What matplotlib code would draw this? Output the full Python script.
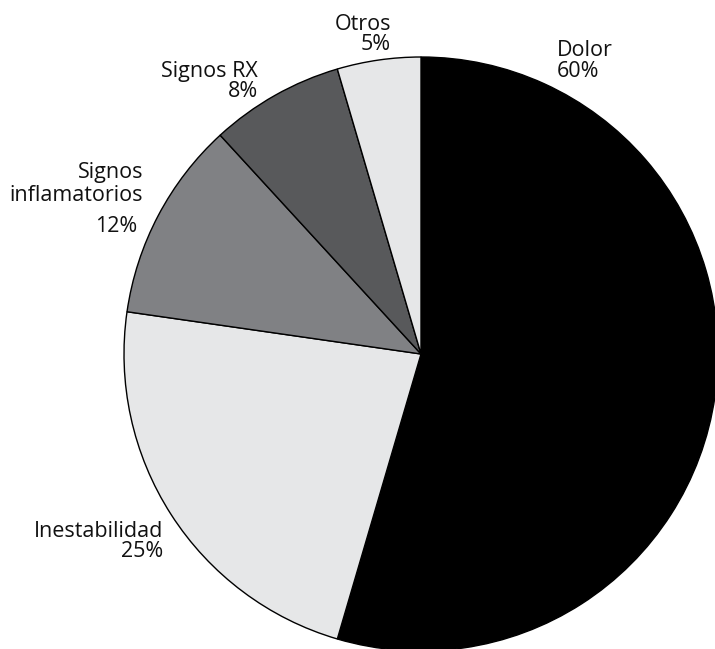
import matplotlib
matplotlib.use("Agg")
import matplotlib.pyplot as plt

# Data
categories = ["Dolor", "Inestabilidad", "Signos\ninflamatorios", "Signos RX", "Otros"]
percentages = [60, 25, 12, 8, 5]
colors = ["#000000", "#e6e7e8", "#808184", "#58595b", "#e6e7e8"]

W, H = 715, 649
fig = plt.figure(figsize=(W / 100, H / 100), dpi=100)
ax = fig.add_axes([0, 0, 1, 1])

# pie geometry in pixel units (y measured upward)
cx, cy, r = 421, H - 354, 297

ax.pie(percentages, colors=colors, startangle=90, counterclock=False,
       center=(cx, cy), radius=r,
       wedgeprops=dict(edgecolor="black", linewidth=1.0))
ax.set_xlim(0, W)
ax.set_ylim(0, H)
ax.set_aspect("equal", adjustable="box")
ax.axis("off")

font = dict(family=["Open Sans", "DejaVu Sans"], size=15.5, color="#111111")

# label layout: (anchor x, alignment, baseline of each line measured from top)
layout = {
    "Dolor": (557, "left", [56, 77]),
    "Inestabilidad": (163, "right", [537, 557]),
    "Signos\ninflamatorios": (143, "right", [178, 201, 232]),
    "Signos RX": (258, "right", [77, 97]),
    "Otros": (391, "right", [30, 50]),
}

for name, pct in zip(categories, percentages):
    x, ha, baselines = layout[name]
    lines = name.split("\n") + [f"{pct}%"]
    for i, (line, yb) in enumerate(zip(lines, baselines)):
        xx = x - 6 if (name.startswith("Signos\n") and i == len(lines) - 1) else x
        ax.text(xx, H - yb, line, ha=ha, va="baseline", **font)

fig.savefig("out.png", dpi=100)
